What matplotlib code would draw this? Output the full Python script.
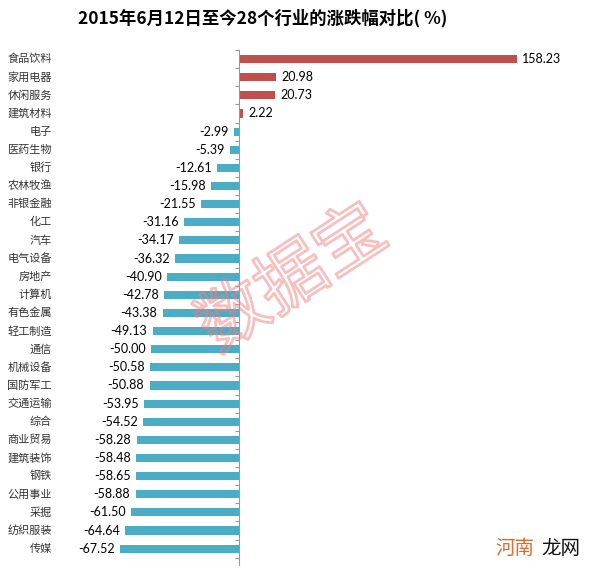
import matplotlib.pyplot as plt
import matplotlib.transforms as mtransforms
import matplotlib.patheffects as pe

plt.rcParams['font.family'] = ['Noto Sans CJK SC', 'DejaVu Sans']

hangye = ["食品饮料", "家用电器", "休闲服务", "建筑材料", "电子", "医药生物", "银行",
          "农林牧渔", "非银金融", "化工", "汽车", "电气设备", "房地产", "计算机",
          "有色金属", "轻工制造", "通信", "机械设备", "国防军工", "交通运输", "综合",
          "商业贸易", "建筑装饰", "钢铁", "公用事业", "采掘", "纺织服装", "传媒"]
zhangdiefu = [158.23, 20.98, 20.73, 2.22, -2.99, -5.39, -12.61, -15.98, -21.55,
              -31.16, -34.17, -36.32, -40.90, -42.78, -43.38, -49.13, -50.00,
              -50.58, -50.88, -53.95, -54.52, -58.28, -58.48, -58.65, -58.88,
              -61.50, -64.64, -67.52]

fig = plt.figure(figsize=(6, 5.75), dpi=100)
ax = fig.add_axes([100 / 600, 1 - 565 / 575, 460 / 600, 515 / 575])

pos = list(range(len(hangye)))
colores = ["#C0504D" if v > 0 else "#4BACC6" for v in zhangdiefu]
ax.barh(pos, zhangdiefu, height=0.45, color=colores)

ax.set_xlim(-79.1, 182.7)
ax.set_ylim(27.9, -0.45)

# eje vertical en cero
for s in ["top", "right", "bottom"]:
    ax.spines[s].set_visible(False)
ax.spines["left"].set_position(("data", 0))
ax.spines["left"].set_color("#999999")
ax.set_xticks([])
ax.set_yticks([p + 0.5 for p in range(-1, len(hangye))])
ax.set_yticklabels([])
ax.tick_params(axis="y", length=3, color="#999999", direction="out")

# etiquetas de categorias a la izquierda
trans = mtransforms.blended_transform_factory(fig.transFigure, ax.transData)
for p, nombre in zip(pos, hangye):
    ax.text(52 / 600, p, nombre, transform=trans, ha="right", va="center",
            fontsize=8, color="#333333")

# valores
for p, v in zip(pos, zhangdiefu):
    if v > 0:
        ax.text(v + 3, p, "%.2f" % v, ha="left", va="center", fontsize=9,
                family=["Lato", "DejaVu Sans"])
    else:
        ax.text(v - 3, p, "%.2f" % v, ha="right", va="center", fontsize=9,
                family=["Lato", "DejaVu Sans"])

fig.text(263 / 600, 1 - 18 / 575, "2015年6月12日至今28个行业的涨跌幅对比( %)",
         ha="center", va="center", fontsize=12.5, fontweight="bold")

# marcas de agua
fig.text(293 / 600, 1 - 280 / 575, "数据宝", ha="center", va="center",
         fontsize=50, rotation=33, color=(1, 1, 1, 0),
         path_effects=[pe.withStroke(linewidth=2, foreground=(0.94, 0.5, 0.5, 0.5))])
fig.text(495 / 600, 1 - 548 / 575, "河南", ha="left", va="center",
         fontsize=14, color="#E06A2A")
fig.text(541 / 600, 1 - 548 / 575, "龙网", ha="left", va="center",
         fontsize=14, color="#111111")

plt.savefig("out.png")
